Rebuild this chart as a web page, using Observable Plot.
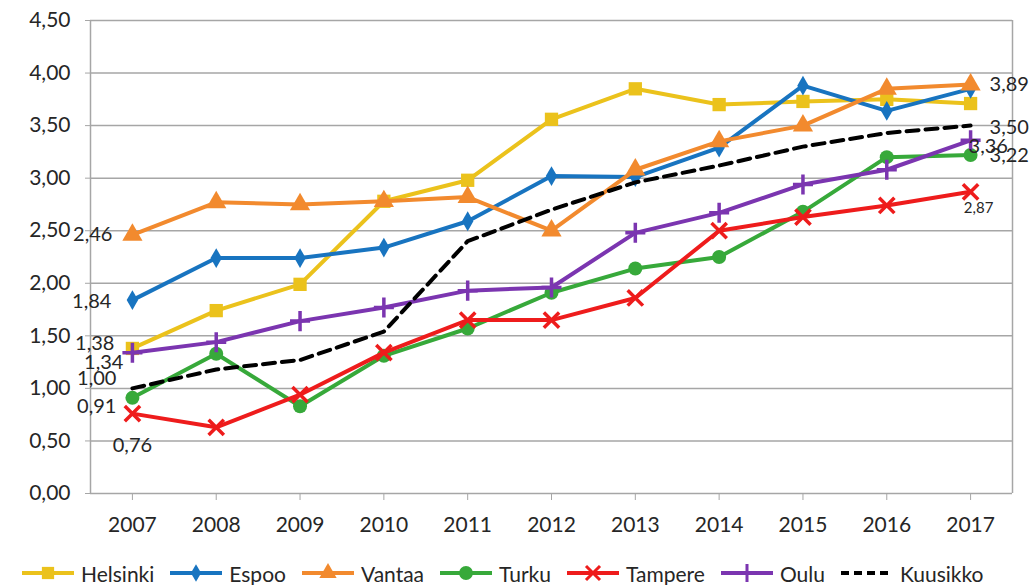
<!DOCTYPE html>
<html>
<head>
<meta charset="utf-8">
<script src="https://cdn.jsdelivr.net/npm/d3@7"></script>
<script src="https://cdn.jsdelivr.net/npm/@observablehq/plot@0.6"></script>
<style>
  body { margin: 0; background: #fff; font-family: Lato, "Liberation Sans", Arial, sans-serif; }
  #legend { display: flex; align-items: center; height: 36px; margin-top: 10px; padding-left: 20px; font-size: 21px; color: #262626; }
  #legend .item { display: flex; align-items: center; margin-right: 14px; }
  #legend svg { margin-right: 5px; }
</style>
</head>
<body>
<div id="chart"></div>
<div id="legend"></div>
<script>
const years = [2007, 2008, 2009, 2010, 2011, 2012, 2013, 2014, 2015, 2016, 2017];
const yTicks = [0, 0.5, 1, 1.5, 2, 2.5, 3, 3.5, 4, 4.5];
const seriesNames = ["Helsinki", "Espoo", "Vantaa", "Turku", "Tampere", "Oulu", "Kuusikko"];
const helsinki = [1.38, 1.74, 1.99, 2.78, 2.98, 3.56, 3.85, 3.70, 3.73, 3.75, 3.71];
const espoo    = [1.84, 2.24, 2.24, 2.34, 2.59, 3.02, 3.01, 3.29, 3.88, 3.64, 3.85];
const vantaa   = [2.46, 2.77, 2.75, 2.78, 2.82, 2.50, 3.08, 3.35, 3.50, 3.85, 3.89];
const turku    = [0.91, 1.33, 0.83, 1.31, 1.57, 1.91, 2.14, 2.25, 2.68, 3.20, 3.22];
const tampere  = [0.76, 0.63, 0.94, 1.34, 1.65, 1.65, 1.86, 2.50, 2.63, 2.74, 2.87];
const oulu     = [1.34, 1.44, 1.64, 1.77, 1.93, 1.96, 2.48, 2.67, 2.94, 3.08, 3.36];
const kuusikko = [1.00, 1.18, 1.27, 1.54, 2.40, 2.70, 2.96, 3.12, 3.30, 3.43, 3.50];

const values = {Helsinki: helsinki, Espoo: espoo, Vantaa: vantaa, Turku: turku, Tampere: tampere, Oulu: oulu, Kuusikko: kuusikko};
// which end-point values are labelled in the chart
const labelledStart = ["Helsinki", "Espoo", "Vantaa", "Turku", "Tampere", "Oulu", "Kuusikko"];
const labelledEnd = ["Vantaa", "Turku", "Tampere", "Oulu", "Kuusikko"];

const style = {
  Helsinki: {color: "#EBC21C", symbol: "square", r: 7.5, fill: true},
  Espoo:    {color: "#1874C0", symbol: "diamond", r: 6, fill: true},
  Vantaa:   {color: "#F28A2E", symbol: "triangle", r: 7.5, fill: true},
  Turku:    {color: "#37A93A", symbol: "circle", r: 7, fill: true},
  Tampere:  {color: "#EE1C1C", symbol: "times", r: 7, fill: false},
  Oulu:     {color: "#7B35B0", symbol: "plus", r: 6.5, fill: false},
  Kuusikko: {color: "#000000", symbol: null, dash: "12,7"}
};
// label offsets (pixels) relative to the point
const startLabelPos = {
  Vantaa:   {dx: -20, dy: 0, anchor: "end"},
  Espoo:    {dx: -21, dy: 1, anchor: "end"},
  Helsinki: {dx: -18, dy: -5, anchor: "end"},
  Oulu:     {dx: -9, dy: 10, anchor: "end"},
  Kuusikko: {dx: -16, dy: -10, anchor: "end"},
  Turku:    {dx: -16, dy: 9, anchor: "end"},
  Tampere:  {dx: 0, dy: 32, anchor: "middle"}
};
const endLabelPos = {
  Vantaa:   {dx: 19, dy: 0, anchor: "start", size: 20},
  Kuusikko: {dx: 19, dy: 2, anchor: "start", size: 20},
  Oulu:     {dx: -2, dy: 6, anchor: "start", size: 20},
  Turku:    {dx: 19, dy: 1, anchor: "start", size: 20},
  Tampere:  {dx: 8, dy: 16, anchor: "middle", size: 15}
};

const fmt = d => d.toFixed(2).replace(".", ",");
const rows = seriesNames.flatMap(s => years.map((y, i) => ({series: s, year: y, value: values[s][i]})));
const xDomain = [years[0] - 0.5, years[years.length - 1] + 0.5];
const grid = "#a6a6a6";
const ink = "#262626";

const marks = [
  Plot.ruleY(yTicks, {stroke: grid, strokeWidth: 1.5}),
  Plot.ruleX(xDomain, {stroke: grid, strokeWidth: 1.5}),
  Plot.axisY({ticks: yTicks, tickSize: 5, tickFormat: () => "", color: grid, label: null}),
  Plot.axisY({ticks: yTicks, tickSize: 0, tickPadding: 20, tickFormat: fmt, color: ink, label: null, fontSize: 21}),
  Plot.axisX({ticks: years, tickSize: 7, tickFormat: () => "", color: grid, label: null}),
  Plot.axisX({ticks: years, tickSize: 0, tickPadding: 24, tickFormat: d => String(d), color: ink, label: null, fontSize: 21})
];

for (const s of seriesNames) {
  const st = style[s];
  const data = rows.filter(r => r.series === s);
  marks.push(Plot.line(data, {x: "year", y: "value", stroke: st.color, strokeWidth: 4, strokeDasharray: st.dash, curve: "linear"}));
  if (st.symbol) {
    marks.push(Plot.dot(data, st.fill
      ? {x: "year", y: "value", symbol: () => st.symbol, r: st.r, fill: st.color, stroke: "none"}
      : {x: "year", y: "value", symbol: () => st.symbol, r: st.r, stroke: st.color, strokeWidth: 3.5}));
  }
}

for (const s of labelledStart) {
  const p = startLabelPos[s];
  const data = rows.filter(r => r.series === s && r.year === years[0]);
  marks.push(Plot.text(data, {x: "year", y: "value", text: d => fmt(d.value), dx: p.dx, dy: p.dy, textAnchor: p.anchor, fill: ink, fontSize: 20}));
}
for (const s of labelledEnd) {
  const p = endLabelPos[s];
  const data = rows.filter(r => r.series === s && r.year === years[years.length - 1]);
  marks.push(Plot.text(data, {x: "year", y: "value", text: d => fmt(d.value), dx: p.dx, dy: p.dy, textAnchor: p.anchor, fill: ink, fontSize: p.size}));
}

const chart = Plot.plot({
  width: 1031,
  height: 545,
  marginLeft: 90,
  marginRight: 19,
  marginTop: 20,
  marginBottom: 52,
  style: {fontFamily: "Lato, Liberation Sans, Arial, sans-serif", fontSize: "20px", background: "white", color: ink},
  x: {domain: xDomain},
  y: {domain: [0, 4.5]},
  marks
});
document.getElementById("chart").appendChild(chart);

// legend
const legend = d3.select("#legend");
const symbolPaths = {
  square: d3.symbol(d3.symbolSquare, 150)(),
  diamond: d3.symbol(d3.symbolDiamond, 90)(),
  triangle: d3.symbol(d3.symbolTriangle, 130)(),
  circle: d3.symbol(d3.symbolCircle, 150)(),
  times: d3.symbol(d3.symbolTimes, 130)(),
  plus: d3.symbol(d3.symbolPlus, 110)()
};
for (const s of seriesNames) {
  const st = style[s];
  const item = legend.append("div").attr("class", "item");
  const sv = item.append("svg").attr("width", 56).attr("height", 22);
  sv.append("line").attr("x1", 2).attr("x2", 54).attr("y1", 11).attr("y2", 11)
    .attr("stroke", st.color).attr("stroke-width", 4).attr("stroke-dasharray", st.dash ? "8,5" : null);
  if (st.symbol) {
    const p = sv.append("path").attr("d", symbolPaths[st.symbol]).attr("transform", "translate(28,11)");
    if (st.fill) p.attr("fill", st.color); else p.attr("fill", "none").attr("stroke", st.color).attr("stroke-width", 3);
  }
  item.append("span").text(s);
}
</script>
</body>
</html>
